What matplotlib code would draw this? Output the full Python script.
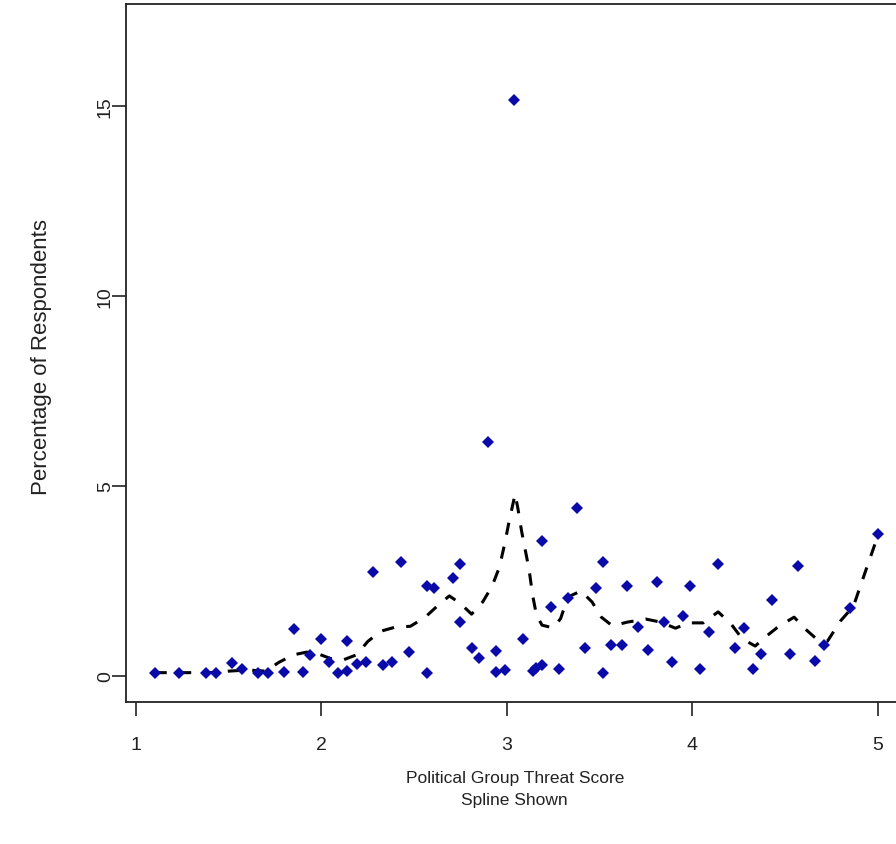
import matplotlib
matplotlib.use("Agg")
import matplotlib.pyplot as plt

plt.rcParams['font.family'] = ['Liberation Sans', 'DejaVu Sans']

# observed points: threat score vs percentage of respondents
score = [1.10, 1.23, 1.38, 1.43, 1.52, 1.57, 1.66, 1.71, 1.80, 1.85,
         1.90, 1.94, 2.00, 2.04, 2.09, 2.14, 2.14, 2.19, 2.24, 2.28,
         2.33, 2.38, 2.43, 2.47, 2.57, 2.57, 2.61, 2.71, 2.75, 2.75,
         2.81, 2.85, 2.90, 2.94, 2.94, 2.99, 3.04, 3.09, 3.14, 3.16,
         3.19, 3.19, 3.24, 3.28, 3.33, 3.38, 3.42, 3.48, 3.52, 3.52,
         3.56, 3.62, 3.65, 3.71, 3.76, 3.81, 3.85, 3.89, 3.95, 3.99,
         4.04, 4.09, 4.14, 4.23, 4.28, 4.33, 4.37, 4.43, 4.53, 4.57,
         4.66, 4.71, 4.85, 5.00]
pct = [0.08, 0.08, 0.06, 0.06, 0.33, 0.18, 0.06, 0.08, 0.10, 1.24,
       0.10, 0.54, 0.97, 0.36, 0.06, 0.13, 0.92, 0.31, 0.36, 2.73,
       0.28, 0.36, 2.99, 0.62, 0.08, 2.36, 2.31, 2.57, 2.94, 1.41,
       0.73, 0.47, 6.15, 0.65, 0.10, 0.16, 15.15, 0.97, 0.13, 0.21,
       0.28, 3.54, 1.81, 0.18, 2.04, 4.41, 0.73, 2.31, 2.99, 0.08,
       0.81, 0.81, 2.36, 1.28, 0.68, 2.47, 1.41, 0.36, 1.57, 2.36,
       0.18, 1.15, 2.94, 0.73, 1.26, 0.18, 0.57, 1.99, 0.57, 2.89,
       0.39, 0.81, 1.78, 3.73]

# spline curve
spline_x = [1.10, 1.25, 1.40, 1.50, 1.60, 1.70, 1.77, 1.85, 1.92, 1.98,
            2.05, 2.12, 2.19, 2.25, 2.32, 2.40, 2.48, 2.56, 2.62, 2.69,
            2.75, 2.81, 2.87, 2.92, 2.96, 2.99, 3.01, 3.03, 3.045, 3.06,
            3.08, 3.10, 3.12, 3.14, 3.16, 3.19, 3.25, 3.29, 3.33, 3.40,
            3.46, 3.51, 3.57, 3.65, 3.75, 3.83, 3.91, 3.98, 4.06, 4.14,
            4.21, 4.27, 4.34, 4.40, 4.47, 4.55, 4.61, 4.67, 4.73, 4.80,
            4.87, 4.93, 4.99, 5.00]
spline_y = [0.08, 0.08, 0.08, 0.12, 0.15, 0.12, 0.35, 0.55, 0.62, 0.58,
            0.45, 0.42, 0.55, 0.90, 1.17, 1.28, 1.30, 1.54, 1.81, 2.10,
            1.90, 1.62, 1.94, 2.35, 2.85, 3.50, 4.00, 4.45, 4.78, 4.40,
            3.80, 3.30, 2.80, 2.10, 1.60, 1.33, 1.26, 1.50, 2.07, 2.23,
            1.94, 1.54, 1.31, 1.41, 1.49, 1.41, 1.25, 1.39, 1.39, 1.68,
            1.36, 0.97, 0.78, 1.04, 1.31, 1.54, 1.23, 0.97, 0.91, 1.44,
            1.83, 2.68, 3.52, 3.73]

fig = plt.figure(figsize=(8.96, 8.45), dpi=100)
ax = fig.add_axes([0.1402, 0.1686, 1.0117 - 0.1402, 0.9942 - 0.1686])

ax.plot(spline_x, spline_y, color='black', lw=2.2, linestyle=(0, (4, 4)),
        zorder=2)
ax.plot(score, pct, linestyle='none', marker='D', ms=6, color='#0a0aa8',
        markeredgewidth=0, zorder=3)

ax.set_xlim(0.944, 5.156)
ax.set_ylim(-0.68, 17.68)
ax.set_xticks([1, 2, 3, 4, 5])
ax.set_yticks([0, 5, 10, 15])
ax.tick_params(axis='both', length=10, width=1.2, colors='#222222',
               labelsize=14)
ax.tick_params(axis='x', pad=15)
ax.tick_params(axis='y', pad=-1.5)
for lab in ax.get_yticklabels():
    lab.set_rotation(90)
    lab.set_va('center')
for s in ax.spines.values():
    s.set_linewidth(1.3)
    s.set_color('#222222')

fig.text(0.5745, 0.066, 'Political Group Threat Score\nSpline Shown',
         ha='center', va='center', fontsize=12.5, color='#222222',
         linespacing=1.6)
fig.text(0.046, 0.5775, 'Percentage of Respondents', rotation=90,
         ha='center', va='center', fontsize=16, color='#222222')

fig.savefig('out.png', dpi=100)
